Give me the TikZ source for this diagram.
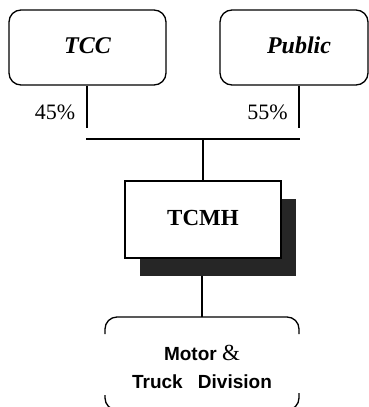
\documentclass[tikz,border=0pt]{standalone}
\usepackage{fontspec}
\setmainfont{Liberation Serif}
\newfontfamily\sansf{Liberation Sans}
\begin{document}
\begin{tikzpicture}[x=1pt,y=-1pt,
  owner/.style={draw, line width=1.3pt, rounded corners=12pt, inner sep=0pt,
    font=\fontsize{24}{26}\selectfont\bfseries\itshape},
  share/.style={font=\fontsize{22}{24}\selectfont, anchor=base},
  link/.style={line width=1.2pt},
  bus/.style={line width=2pt},
  holding/.style={draw, fill=white, line width=1.8pt, inner sep=0pt,
    font=\fontsize{23}{26}\selectfont\bfseries},
  shadowbox/.style={fill=black!85, draw=none},
  division/.style={line width=1.3pt, rounded corners=12pt},
  divtext/.style={font=\fontsize{19}{22}\selectfont\sansf\bfseries, anchor=base}]
\useasboundingbox (0,0) rectangle (369,407);

% owners
\node[owner, minimum width=157pt, minimum height=75pt] (tcc) at (87.5,47.5) {\raisebox{4pt}{TCC}};
\node[owner, minimum width=148pt, minimum height=75pt] (pub) at (294,47.5) {\raisebox{4pt}{\hspace*{10pt}Public}};

% shareholdings
\coordinate (tccend) at (87,128);
\coordinate (pubend) at (299,128);
\draw[link] (tcc.south -| tccend) -- (tccend);
\draw[link] (pub.south -| pubend) -- (pubend);
\node[share] (p45) at (55,119) {45\%};
\node[share] (p55) at (267.5,119) {55\%};

% joint bus
\coordinate (busl) at (86,139);
\coordinate (busr) at (300,139);
\coordinate (busm) at (203,139);
\draw[bus] (busl) -- (busr);

% holding company with drop shadow
\fill[shadowbox] (140,199) rectangle (296,276);
\node[holding, minimum width=156pt, minimum height=77pt] (tcmh) at (203,219.5) {\raisebox{3pt}{TCMH}};
\draw[link] (busm) -- (tcmh.north);

% division box (sides only partly drawn)
\coordinate (shadowbase) at (202,276);
\coordinate (divtop) at (202,317);
\draw[link] (shadowbase) -- (divtop);
\draw[division] (105,334) |- (299,317) -- (299,334);
\draw[division] (105,395) |- (140,410);
\draw[division] (299,393) |- (260,410);
\node[divtext] (motor) at (202,360) {Motor {\rmfamily\mdseries\fontsize{23}{24}\selectfont\&}};
\node[divtext] (truck) at (202,388) {Truck\hspace{0.8em}Division};
\end{tikzpicture}
\end{document}
